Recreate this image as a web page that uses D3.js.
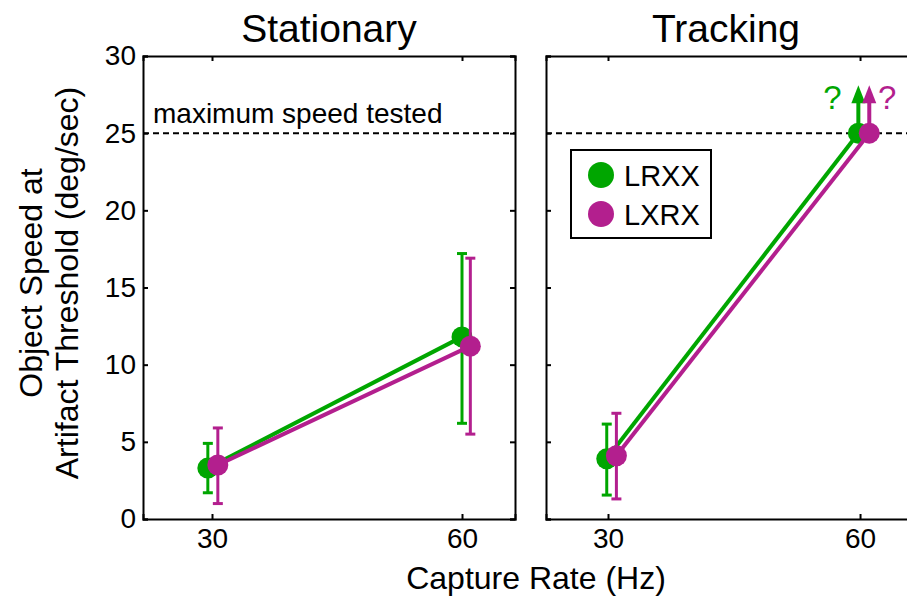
<!DOCTYPE html>
<html>
<head>
<meta charset="utf-8">
<script src="https://cdn.jsdelivr.net/npm/d3@7"></script>
<style>
  html, body { margin: 0; padding: 0; background: #fff; }
  svg { display: block; }
  text { font-family: "Liberation Sans", Arial, Helvetica, sans-serif; fill: #000; }
</style>
</head>
<body>
<svg id="chart" width="907" height="597"></svg>
<script>
// ---------------- data ----------------
const panelTitles = ["Stationary", "Tracking"];
const seriesNames = ["LRXX", "LXRX"];
const xTickValues = [30, 60];
const yTickValues = [0, 5, 10, 15, 20, 25, 30];
const maxSpeedTested = 25;
const maxSpeedLabel = "maximum speed tested";
const xAxisTitle = "Capture Rate (Hz)";
const yAxisTitleLines = ["Object Speed at", "Artifact Threshold (deg/sec)"];

// Stationary
const statLRXX_x = [29.5, 60.0];
const statLRXX_y = [3.3, 11.8];
const statLRXX_lo = [1.7, 6.2];
const statLRXX_hi = [4.9, 17.2];
const statLXRX_x = [30.7, 61.0];
const statLXRX_y = [3.5, 11.2];
const statLXRX_lo = [1.0, 5.5];
const statLXRX_hi = [5.9, 16.9];

// Tracking (60 Hz values censored at max speed tested -> arrows)
const trkLRXX_x = [29.85, 59.8];
const trkLRXX_y = [3.9, 25];
const trkLRXX_lo = [1.55, null];
const trkLRXX_hi = [6.15, null];
const trkLXRX_x = [31.0, 61.1];
const trkLXRX_y = [4.1, 25];
const trkLXRX_lo = [1.3, null];
const trkLXRX_hi = [6.85, null];
const censoredFlags = [false, true];
const arrowTipValue = 28.1;

// ---------------- layout ----------------
const colors = { LRXX: "#00a600", LXRX: "#b31f8e" };
const yTop = 56, yBottom = 519;
const panelsLayout = [
  { x0: 143, x1: 515, domain: [21.72, 66.36] },
  { x0: 546, x1: 918, domain: [22.62, 66.9] }
];

const svg = d3.select("#chart");
const y = d3.scaleLinear().domain([0, 30]).range([yBottom, yTop]);

const panelData = [
  {
    title: panelTitles[0],
    series: [
      { name: "LRXX", x: statLRXX_x, y: statLRXX_y, lo: statLRXX_lo, hi: statLRXX_hi, cens: [false, false] },
      { name: "LXRX", x: statLXRX_x, y: statLXRX_y, lo: statLXRX_lo, hi: statLXRX_hi, cens: [false, false] }
    ]
  },
  {
    title: panelTitles[1],
    series: [
      { name: "LRXX", x: trkLRXX_x, y: trkLRXX_y, lo: trkLRXX_lo, hi: trkLRXX_hi, cens: censoredFlags },
      { name: "LXRX", x: trkLXRX_x, y: trkLXRX_y, lo: trkLXRX_lo, hi: trkLXRX_hi, cens: censoredFlags }
    ]
  }
];

panelData.forEach((pd, pi) => {
  const L = panelsLayout[pi];
  const x = d3.scaleLinear().domain(L.domain).range([L.x0, L.x1]);
  const g = svg.append("g");

  // dashed max line
  g.append("line")
    .attr("x1", L.x0).attr("x2", L.x1)
    .attr("y1", y(maxSpeedTested)).attr("y2", y(maxSpeedTested))
    .attr("stroke", "#000").attr("stroke-width", 2)
    .attr("stroke-dasharray", "6,4");

  if (pi === 0) {
    g.append("text").attr("x", 153).attr("y", y(maxSpeedTested) - 10)
      .attr("font-size", 28).text(maxSpeedLabel);
  }

  // axes (inward ticks on all sides)
  const axB = d3.axisBottom(x).tickValues(xTickValues).tickSize(-5).tickPadding(9).tickFormat(d3.format("d"));
  const axT = d3.axisTop(x).tickValues(xTickValues).tickSize(-5).tickFormat("");
  const axL = d3.axisLeft(y).tickValues(yTickValues).tickSize(-5).tickPadding(7);
  const axR = d3.axisRight(y).tickValues(yTickValues).tickSize(-5).tickFormat("");

  const gb = g.append("g").attr("transform", `translate(0,${yBottom})`).call(axB);
  const gt = g.append("g").attr("transform", `translate(0,${yTop})`).call(axT);
  const gl = g.append("g").attr("transform", `translate(${L.x0},0)`).call(axL);
  const gr = g.append("g").attr("transform", `translate(${L.x1},0)`).call(axR);
  [gb, gt, gl, gr].forEach(a => {
    a.select(".domain").attr("stroke", "#000").attr("stroke-width", 2);
    a.selectAll(".tick line").attr("stroke", "#000").attr("stroke-width", 2);
    a.selectAll("text").attr("font-size", 28).attr("font-family", "Liberation Sans, Arial, sans-serif").attr("fill", "#000");
  });
  if (pi === 1) gl.selectAll(".tick text").remove();

  // title
  g.append("text").attr("x", pi === 0 ? (L.x0 + L.x1) / 2 : 726).attr("y", 42)
    .attr("text-anchor", "middle").attr("font-size", 39).text(pd.title);

  // series
  pd.series.forEach(s => {
    const c = colors[s.name];
    const pts = s.x.map((xv, i) => ({ x: xv, y: s.y[i], lo: s.lo[i], hi: s.hi[i], cens: s.cens[i] }));
    g.append("path").datum(pts)
      .attr("d", d3.line().x(d => x(d.x)).y(d => y(d.y)))
      .attr("fill", "none").attr("stroke", c).attr("stroke-width", 4);

    pts.filter(d => d.lo !== null).forEach(d => {
      const cx = x(d.x);
      g.append("line").attr("x1", cx).attr("x2", cx).attr("y1", y(d.lo)).attr("y2", y(d.hi))
        .attr("stroke", c).attr("stroke-width", 3);
      [d.lo, d.hi].forEach(v => {
        g.append("line").attr("x1", cx - 5).attr("x2", cx + 5).attr("y1", y(v)).attr("y2", y(v))
          .attr("stroke", c).attr("stroke-width", 3);
      });
    });

    pts.filter(d => d.cens).forEach(d => {
      const cx = x(d.x);
      const tip = y(arrowTipValue);
      g.append("line").attr("x1", cx).attr("x2", cx).attr("y1", y(d.y)).attr("y2", tip + 14)
        .attr("stroke", c).attr("stroke-width", 4);
      g.append("path")
        .attr("d", `M${cx},${tip} L${cx + 7},${tip + 18} L${cx - 7},${tip + 18} Z`)
        .attr("fill", c);
      const left = s.name === "LRXX";
      g.append("text")
        .attr("x", left ? cx - 26 : cx + 18).attr("y", tip + 24)
        .attr("font-family", "Lato, 'Open Sans', sans-serif")
        .attr("text-anchor", "middle")
        .attr("font-size", 33).style("fill", c).text("?");
    });

    g.selectAll(null).data(pts).enter().append("circle")
      .attr("cx", d => x(d.x)).attr("cy", d => y(d.y)).attr("r", 10.5)
      .attr("fill", c);
  });

  // legend in tracking panel
  if (pi === 1) {
    const lg = g.append("g");
    lg.append("rect").attr("x", 571).attr("y", 150).attr("width", 140).attr("height", 88)
      .attr("fill", "#fff").attr("stroke", "#000").attr("stroke-width", 2);
    seriesNames.forEach((n, i) => {
      lg.append("circle").attr("cx", 601).attr("cy", 175 + i * 39).attr("r", 13).attr("fill", colors[n]);
      lg.append("text").attr("x", 624).attr("y", 186 + i * 39)
        .attr("font-family", "Lato, 'Open Sans', sans-serif")
        .attr("font-size", 29).text(n);
    });
  }
});

// axis titles
svg.append("text").attr("x", 536).attr("y", 589).attr("text-anchor", "middle")
  .attr("font-size", 32).text(xAxisTitle);
yAxisTitleLines.forEach((t, i) => {
  svg.append("text")
    .attr("transform", `translate(${42 + i * 36},${283}) rotate(-90)`)
    .attr("text-anchor", "middle").attr("font-size", 32).text(t);
});
</script>
</body>
</html>
